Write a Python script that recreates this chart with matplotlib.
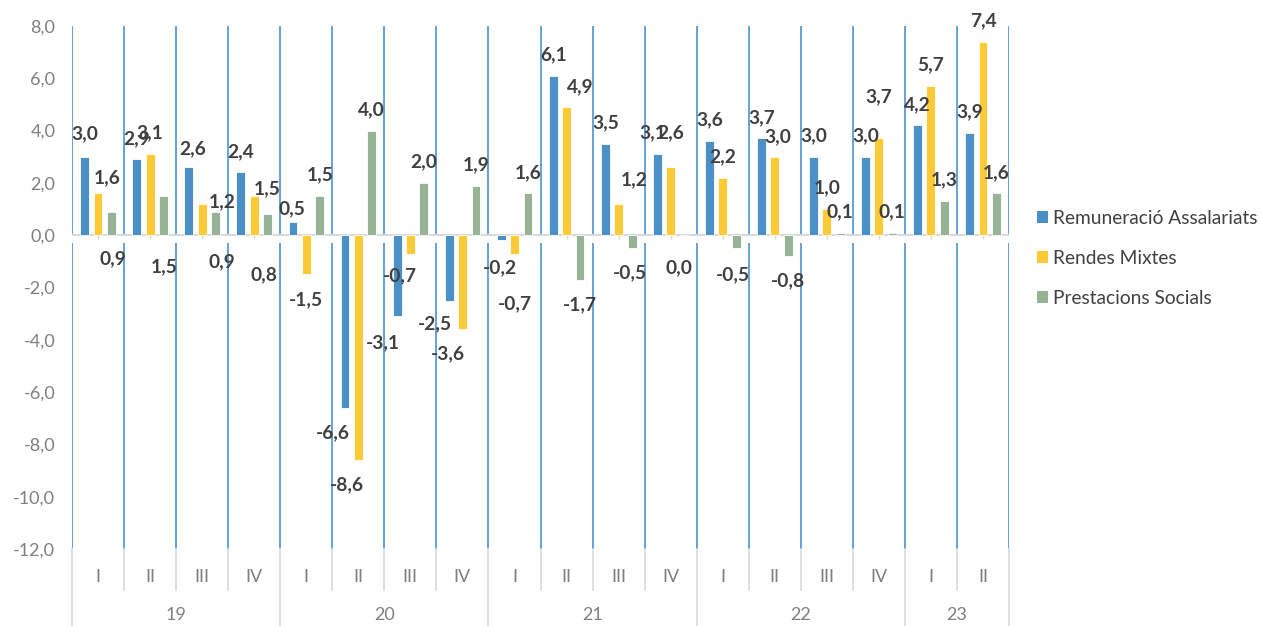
import matplotlib
matplotlib.use('Agg')
import matplotlib.pyplot as plt
from matplotlib.transforms import blended_transform_factory
from matplotlib.patches import Patch
import numpy as np

# ---- data ----
years = ['19', '20', '21', '22', '23']
quarters_per_year = [4, 4, 4, 4, 2]
quarters = ['I', 'II', 'III', 'IV', 'I', 'II', 'III', 'IV', 'I', 'II', 'III', 'IV',
            'I', 'II', 'III', 'IV', 'I', 'II']
series_names = ['Remuneració Assalariats', 'Rendes Mixtes', 'Prestacions Socials']
remuneracio = [3.0, 2.9, 2.6, 2.4, 0.5, -6.6, -3.1, -2.5, -0.2, 6.1, 3.5, 3.1, 3.6, 3.7, 3.0, 3.0, 4.2, 3.9]
rendes_mixtes = [1.6, 3.1, 1.2, 1.5, -1.5, -8.6, -0.7, -3.6, -0.7, 4.9, 1.2, 2.6, 2.2, 3.0, 1.0, 3.7, 5.7, 7.4]
prestacions = [0.9, 1.5, 0.9, 0.8, 1.5, 4.0, 2.0, 1.9, 1.6, -1.7, -0.5, 0.0, -0.5, -0.8, 0.1, 0.1, 1.3, 1.6]
yticks = [-12, -10, -8, -6, -4, -2, 0, 2, 4, 6, 8]

# ---- style ----
colors = ['#4A8FC6', '#FFCA36', '#97B396']
bar_offsets = [-0.255, 0.0, 0.26]
bar_width = 0.17
label_color = '#404040'
axis_text_color = '#7F7F7F'
grid_blue = '#5B9BD5'
sep_gray = '#D9D9D9'
FONT = 'Lato'

# label offsets in pixels (dx, dy) relative to the bar end, for labels moved by hand
label_overrides = {
    (0, 0): (0, 23), (0, 2): (4, 18), (0, 4): (-1, 13), (0, 5): (-12, -25),
    (0, 6): (-14, -26), (0, 7): (-14, -23), (0, 8): (-1, -27), (0, 11): (-5, 21),
    (1, 0): (9, 16), (1, 2): (20, 2), (1, 3): (13, 7), (1, 5): (-11, -25),
    (1, 6): (-10, -22), (1, 7): (-15, -24), (1, 8): (0, -50), (1, 9): (14, 20),
    (1, 10): (16, 24), (1, 11): (0, 34), (1, 13): (3, 20), (1, 15): (0, 42),
    (2, 0): (1, -47), (2, 1): (1, -71), (2, 2): (6, -50), (2, 3): (-4, -60),
    (2, 10): (-2, -24), (2, 11): (-5, -33), (2, 12): (-3, -26),
}

W, H = 1261, 626
fig = plt.figure(figsize=(W / 100, H / 100), dpi=100)
left_px, right_px, top_px, bottom_px = 72, 1009, 26, 549
ax = fig.add_axes([left_px / W, 1 - bottom_px / H, (right_px - left_px) / W, (bottom_px - top_px) / H])

n = len(quarters)
x = np.arange(n)
ax.set_xlim(-0.5, n - 0.5)
ax.set_ylim(-12, 8)

# vertical blue grid lines at category boundaries (with a small gap under the zero line)
bounds = np.arange(n + 1) - 0.5
ax.vlines(bounds, 0, 8, color=grid_blue, lw=1.3, zorder=1)
ax.vlines(bounds, -12, -0.3, color=grid_blue, lw=1.3, zorder=1)

all_series = [remuneracio, rendes_mixtes, prestacions]
for si, (vals, col, off) in enumerate(zip(all_series, colors, bar_offsets)):
    ax.bar(x + off, vals, width=bar_width, color=col, edgecolor='white', linewidth=0.6,
           label=series_names[si], zorder=3)
    for i, v in enumerate(vals):
        default = (0, 21) if v > 0 else (0, -25)
        dx, dy = label_overrides.get((si, i), default)
        ax.annotate(f"{v:.1f}".replace('.', ','), xy=(x[i] + off, v), xytext=(dx, dy),
                    textcoords='offset pixels', ha='center', va='center',
                    fontsize=13.8, fontweight='bold', color=label_color, family=FONT, zorder=5)

# zero line with small ticks at category centres
ax.axhline(0, color=sep_gray, lw=1.5, zorder=2)
ax.vlines(x, -4 / 26.15, 0, color=sep_gray, lw=1.0, zorder=2)

# y axis
ax.set_yticks(yticks)
ax.set_yticklabels([f"{v:.1f}".replace('.', ',') for v in yticks])
ax.tick_params(axis='y', length=0, pad=12, labelsize=13, labelcolor=axis_text_color)
for lab in ax.get_yticklabels():
    lab.set_family(FONT)
ax.set_xticks([])
for s in ax.spines.values():
    s.set_visible(False)

# multi-level category axis
tr = blended_transform_factory(ax.transData, ax.transAxes)
ax_h = bottom_px - top_px
q_sep_bottom = -(590 - bottom_px) / ax_h
y_sep_bottom = -(H - bottom_px) / ax_h
q_label_y = -(577 - bottom_px) / ax_h
y_label_y = -(615 - bottom_px) / ax_h

year_bounds = np.concatenate([[0], np.cumsum(quarters_per_year)]) - 0.5
for b in bounds:
    if b in year_bounds:
        ax.plot([b, b], [0, y_sep_bottom], transform=tr, color=sep_gray, lw=1.2, clip_on=False)
    else:
        ax.plot([b, b], [0, q_sep_bottom], transform=tr, color=sep_gray, lw=1.2, clip_on=False)

for i, q in enumerate(quarters):
    ax.text(x[i], q_label_y, q, transform=tr, ha='center', va='center',
            fontsize=13, color=axis_text_color, family=FONT)
for k, yr in enumerate(years):
    cx = (year_bounds[k] + year_bounds[k + 1]) / 2
    ax.text(cx, y_label_y, yr, transform=tr, ha='center', va='center',
            fontsize=13, color=axis_text_color, family=FONT)

# legend
handles = [Patch(facecolor=c, edgecolor='none') for c in colors]
leg = fig.legend(handles, series_names, loc='upper left', bbox_to_anchor=(1037 / W, 1 - 210 / H),
                 frameon=False, handlelength=0.55, handleheight=0.55,
                 handletextpad=0.3, labelspacing=1.2, borderpad=0, borderaxespad=0,
                 prop={'family': FONT, 'size': 13.8})
for t in leg.get_texts():
    t.set_color(label_color)

fig.savefig('out.png', dpi=100)
